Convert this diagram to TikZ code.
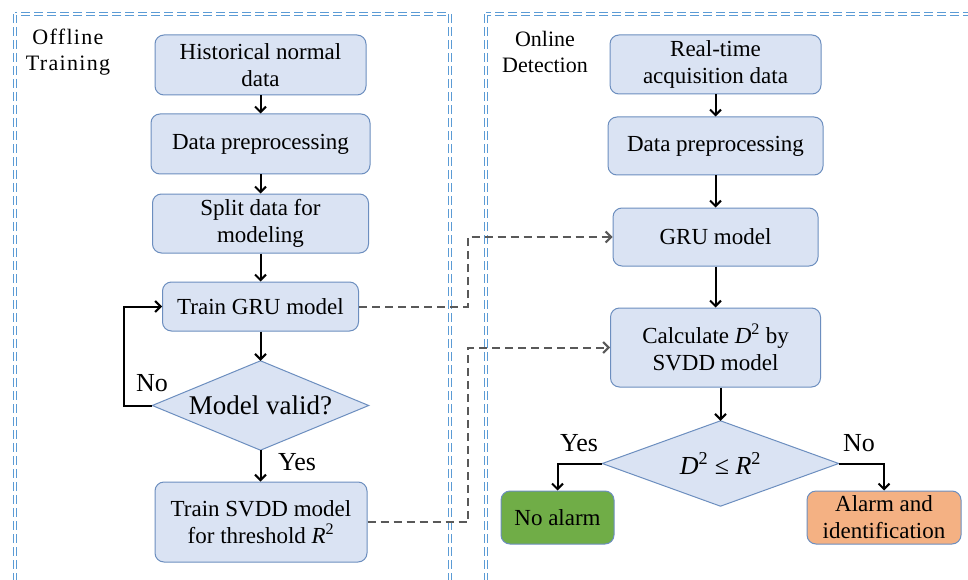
\documentclass[tikz,border=0pt]{standalone}
\usepackage{fontspec}
\setmainfont{Liberation Serif}
\newfontfamily\spaced[LetterSpace=6]{Liberation Serif}
\usetikzlibrary{arrows.meta}
\definecolor{boxfill}{HTML}{DAE3F3}
\definecolor{boxline}{HTML}{6C8EBF}
\definecolor{frameblue}{HTML}{5B9BD5}
\definecolor{greenfill}{HTML}{70AD47}
\definecolor{orangefill}{HTML}{F4B183}
\definecolor{dashgray}{HTML}{595959}
\tikzset{
  proc/.style={rectangle, rounded corners=9pt, draw=boxline, fill=boxfill, line width=1pt,
    align=center, inner sep=0pt, font=\fontsize{23}{27}\selectfont},
  decide/.style={rectangle, inner sep=0pt, align=center, font=\fontsize{27}{30}\selectfont},
  dshape/.style={draw=boxline, fill=boxfill, line width=1pt, line join=miter},
  arr/.style={line width=2pt, -{Straight Barb[length=5.5pt,width=11pt]}},
  dsh/.style={line width=2pt, draw=dashgray, dash pattern=on 8pt off 5pt, -{Straight Barb[length=5.5pt,width=11pt]}},
  frame/.style={draw=frameblue, double=white, double distance=1.8pt, line width=1.1pt, dash pattern=on 9pt off 4pt},
  lbl/.style={font=\fontsize{26}{28}\selectfont, inner sep=0pt},
  title/.style={font=\fontsize{22}{26}\selectfont, align=center, inner sep=0pt}
}
\begin{document}
\begin{tikzpicture}[x=1pt,y=-1pt]
\useasboundingbox (0,0) rectangle (968,580);
\clip (0,0) rectangle (968,580);
\fill[white] (0,0) rectangle (968,580);
% frames
\draw[frame] (15,14) rectangle (450,620);
\draw[frame] (486,14) rectangle (1020,620);
\node[title] (t1) at (68,52) {{\spaced Offline}\\{\spaced Training}};
\node[title] (t2) at (545,52) {Online\\Detection};
% left column
\node[proc, minimum width=211pt, minimum height=60pt] (h1) at (260.5,65) {Historical normal\\data};
\node[proc, minimum width=219pt, minimum height=60pt] (h2) at (260.5,144) {Data preprocessing};
\node[proc, minimum width=216pt, minimum height=59pt] (h3) at (260.5,223.5) {Split data for\\modeling};
\node[proc, minimum width=196pt, minimum height=49pt] (h4) at (260.5,306.5) {Train GRU model};
\node[decide, minimum width=216pt, minimum height=89pt] (d1) at (260.5,405.5) {};
\path[dshape] (d1.north) -- (d1.east) -- (d1.south) -- (d1.west) -- cycle;
\node[decide] (d1t) at (d1.center) {Model valid?};
\node[proc, minimum width=212pt, minimum height=80pt] (h5) at (261,522) {Train SVDD model\\for threshold \textit{R}\textsuperscript{2}};
% right column
\node[proc, minimum width=211pt, minimum height=59pt] (r1) at (715.5,64.5) {Real-time\\acquisition data};
\node[proc, minimum width=215pt, minimum height=58pt] (r2) at (715.5,146) {Data preprocessing};
\node[proc, minimum width=205pt, minimum height=58pt] (r3) at (715.5,237) {GRU model};
\node[proc, minimum width=210pt, minimum height=79pt] (r4) at (715.5,347.5) {Calculate \textit{D}\textsuperscript{2} by\\SVDD model};
\node[decide, minimum width=236pt, minimum height=85pt] (d2) at (720.5,463.5) {};
\path[dshape] (d2.north) -- (d2.east) -- (d2.south) -- (d2.west) -- cycle;
\node[decide, font=\fontsize{26}{28}\selectfont] (d2t) at (d2.center) {\textit{D}\textsuperscript{2} ≤ \textit{R}\textsuperscript{2}};
\node[proc, fill=greenfill, minimum width=113pt, minimum height=53pt] (r5) at (557.5,517.5) {No alarm};
\node[proc, fill=orangefill, minimum width=154pt, minimum height=53pt] (r6) at (884,517.5) {Alarm and\\identification};
% left arrows
\draw[arr] (h1.south) -- (h2.north);
\draw[arr] (h2.south) -- (h3.north);
\draw[arr] (h3.south) -- (h4.north);
\draw[arr] (h4.south) -- (d1.north);
\draw[arr] (d1.south) -- (d1.south |- h5.north);
\draw[arr] (d1.west) -| ([xshift=-38pt]h4.west) -- (h4.west);
\node[lbl] (no1) at (152,383) {No};
\node[lbl] (yes1) at (297,462) {Yes};
% right arrows
\draw[arr] (r1.south) -- (r2.north);
\draw[arr] (r2.south) -- (r3.north);
\draw[arr] (r3.south) -- (r4.north);
\draw[arr] (d2.north |- r4.south) -- (d2.north);
\draw[arr] (d2.west) -| (r5.north);
\draw[arr] (d2.east) -| (r6.north);
\node[lbl] (yes2) at (579,443) {Yes};
\node[lbl] (no2) at (859,443) {No};
% dashed links
\draw[dsh] (h4.east) -| ([xshift=-145pt]r3.west) -- (r3.west);
\draw[dsh] (h5.east) -| ([xshift=-142pt]r4.west) -- (r4.west);
\end{tikzpicture}
\end{document}
